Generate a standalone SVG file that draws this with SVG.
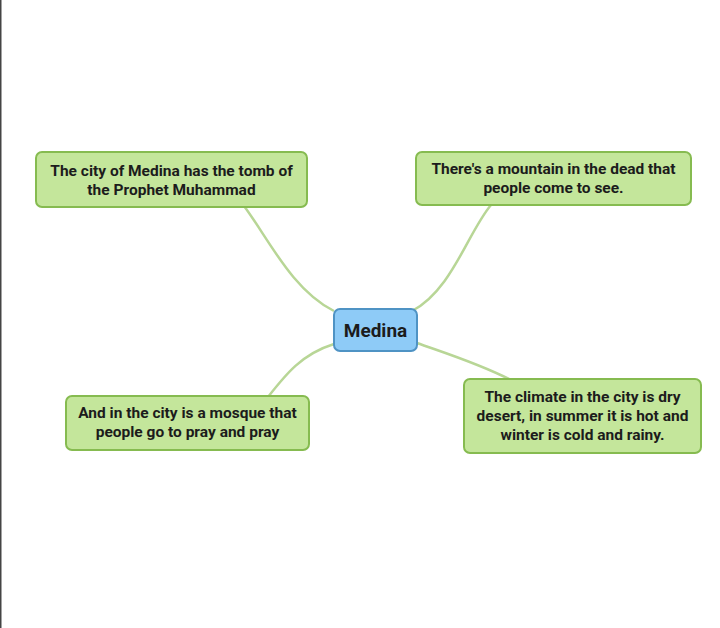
<svg xmlns="http://www.w3.org/2000/svg" width="720" height="628" viewBox="0 0 720 628">
<style>
.n{fill:#c4e69b;stroke:#86bb50;stroke-width:2}
.c{fill:#8ecbf7;stroke:#4f93c4;stroke-width:2}
.t{font-family:Roboto,"Liberation Sans",sans-serif;font-weight:bold;font-size:15.5px;fill:#1c1c1c;text-anchor:middle}
.e{fill:none;stroke:#b8d696;stroke-width:2.5}
</style>
<rect x="0" y="0" width="720" height="628" fill="#fff"/>
<line x1="0.75" y1="0" x2="0.75" y2="628" stroke="#444" stroke-width="1.5"/>
<g id="connectors">
<path class="e" d="M244,206 C268,238 292,290 334,311"/>
<path class="e" d="M491,205 C468,232 452,290 412,311"/>
<path class="e" d="M334,344 C302,354 286,374 268,397"/>
<path class="e" d="M417,343 C448,354 480,364 511,380"/>
</g>
<g id="n-center">
<rect class="c" x="334" y="309" width="83" height="42" rx="6"/>
<text class="t" x="375.5" y="337" style="font-size:19px">Medina</text>
</g>
<g id="n-tl">
<rect class="n" x="36" y="152" width="271" height="55" rx="6"/>
<text class="t" x="171.5" y="176">The city of Medina has the tomb of</text>
<text class="t" x="171.5" y="195">the Prophet Muhammad</text>
</g>
<g id="n-tr">
<rect class="n" x="416" y="152" width="275" height="53" rx="6"/>
<text class="t" x="553.5" y="174">There's a mountain in the dead that</text>
<text class="t" x="553.5" y="193">people come to see.</text>
</g>
<g id="n-bl">
<rect class="n" x="66" y="396" width="243" height="54" rx="6"/>
<text class="t" x="187.5" y="418">And in the city is a mosque that</text>
<text class="t" x="187.5" y="437">people go to pray and pray</text>
</g>
<g id="n-br">
<rect class="n" x="464" y="379" width="237" height="74" rx="6"/>
<text class="t" x="582.5" y="402">The climate in the city is dry</text>
<text class="t" x="582.5" y="421">desert, in summer it is hot and</text>
<text class="t" x="582.5" y="440">winter is cold and rainy.</text>
</g>
</svg>
